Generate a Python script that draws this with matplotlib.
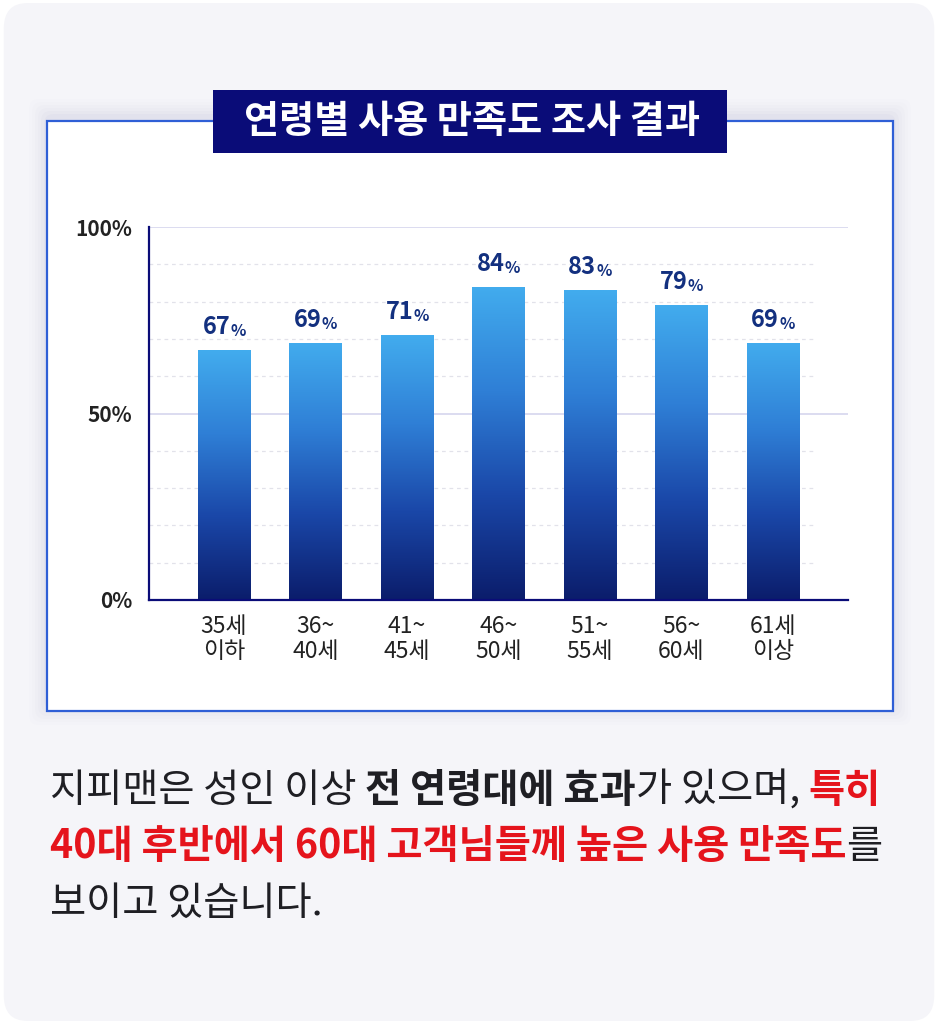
import matplotlib
matplotlib.use('Agg')
import matplotlib.pyplot as plt
import numpy as np
from matplotlib.patches import FancyBboxPatch, Rectangle
from matplotlib.colors import LinearSegmentedColormap

plt.rcParams['font.family'] = ['Noto Sans CJK KR', 'DejaVu Sans']

# data
title = '연령별 사용 만족도 조사 결과'
ages = ['35세\n이하', '36~\n40세', '41~\n45세', '46~\n50세', '51~\n55세', '56~\n60세', '61세\n이상']
values = [67, 69, 71, 84, 83, 79, 69]
yticks = [0, 50, 100]
ytick_labels = ['0%', '50%', '100%']
caption = [
    [('지피맨은 성인 이상 ', 'normal', 'n'), ('전 연령대에 효과', 'bold', 'n'),
     ('가 있으며, ', 'normal', 'n'), ('특히', 'bold', 'r')],
    [('40대 후반에서 60대 고객님들께 높은 사용 만족도', 'bold', 'r'), ('를', 'normal', 'n')],
    [('보이고 있습니다.', 'normal', 'n')],
]

W, H = 938, 1024
fig = plt.figure(figsize=(W / 100, H / 100), dpi=100, facecolor='white')

def fx(px):
    return px / W

def fy(py):
    return 1 - py / H

# page background with rounded corners
fig.patches.append(FancyBboxPatch((0.004, 0.003), 0.992, 0.994, boxstyle='round,pad=0,rounding_size=0.025',
                                  transform=fig.transFigure, facecolor='#f5f5f9', edgecolor='none', zorder=0))

# panel shadow
px0, px1, py0, py1 = 47, 893, 121, 711
for i, a in enumerate([0.035, 0.03, 0.025, 0.02, 0.015, 0.01]):
    s = 3 * (i + 1)
    fig.patches.append(FancyBboxPatch((fx(px0 - s), fy(py1 + s - 4)), fx(px1 - px0 + 2 * s), (py1 - py0 + 2 * s) / H,
                                      boxstyle='round,pad=0,rounding_size=0.01', transform=fig.transFigure,
                                      facecolor='#8080b0', edgecolor='none', alpha=a, zorder=1))
# panel
fig.patches.append(Rectangle((fx(px0), fy(py1)), fx(px1 - px0), (py1 - py0) / H, transform=fig.transFigure,
                             facecolor='white', edgecolor='#2f5fd6', linewidth=1.6, zorder=2))
# title box
fig.patches.append(Rectangle((fx(213), fy(153)), fx(727 - 213), (153 - 90) / H, transform=fig.transFigure,
                             facecolor='#0a0c78', edgecolor='none', zorder=3))
fig.text(fx(472), fy(121), title, color='white', fontsize=27.5, fontweight='bold', ha='center', va='center', zorder=4)

# chart
ax = fig.add_axes([fx(149), fy(600), fx(848 - 149), (600 - 227) / H], zorder=5)
ax.set_facecolor('none')
x = np.arange(len(values))

for g in [10, 20, 30, 40, 60, 70, 80, 90]:
    ax.axhline(g, xmax=0.953, color='#e2e2ea', linewidth=0.9, linestyle=(0, (3, 3)), zorder=1)
for g in [50, 100]:
    ax.axhline(g, color='#dcdcf0', linewidth=1.4, zorder=1)

bars = ax.bar(x, values, width=0.57, color='none', zorder=2)
cmap = LinearSegmentedColormap.from_list('bar', ['#0b1d6b', '#1a47a8', '#2f7fd6', '#42acee'])
grad = np.linspace(0, 1, 256).reshape(-1, 1)
for b in bars:
    im = ax.imshow(grad, cmap=cmap, origin='lower', aspect='auto', zorder=2,
                   extent=(b.get_x(), b.get_x() + b.get_width(), 0, b.get_height()))
    im.set_clip_path(b)
ax.set_xlim(-0.82, len(values) - 1 + 0.82)
ax.set_ylim(0, 100)

for s in ['top', 'right']:
    ax.spines[s].set_visible(False)
ax.spines['left'].set_color('#0a0c78')
ax.spines['bottom'].set_color('#0a0c78')
ax.spines['left'].set_linewidth(1.6)
ax.spines['bottom'].set_linewidth(1.6)
ax.spines['bottom'].set_zorder(3)

ax.set_xticks(x)
ax.set_xticklabels(ages, fontsize=16.5, color='#222222', linespacing=1.1)
ax.set_yticks(yticks)
ax.set_yticklabels(ytick_labels, fontsize=15, color='#222222', fontweight='bold')
ax.tick_params(axis='x', length=0, pad=11)
ax.tick_params(axis='y', length=0, pad=12)

fig.canvas.draw()
renderer = fig.canvas.get_renderer()

# value labels: big number + small percent
lab_color = '#13307f'
off = 8
for xi, v in zip(x, values):
    t1 = ax.annotate(str(v), (xi, v), xytext=(0, off), textcoords='offset points', ha='left', va='bottom',
                     fontsize=17, fontweight='bold', color=lab_color)
    t2 = ax.annotate('%', (xi, v), xytext=(0, off), textcoords='offset points', ha='left', va='bottom',
                     fontsize=11.5, fontweight='bold', color=lab_color)
    w1 = t1.get_window_extent(renderer).width
    w2 = t2.get_window_extent(renderer).width
    total = w1 + w2
    # shift to center the pair
    t1.xyann = (-total / 2 * 72 / 100, off)
    t2.xyann = ((-total / 2 + w1) * 72 / 100, off)

# caption with mixed styles
colors = {'n': '#1f1f24', 'r': '#e5141c'}
line_y = [791, 847, 904]
for parts, ly in zip(caption, line_y):
    xp = 50
    for txt, weight, c in parts:
        t = fig.text(fx(xp), fy(ly), txt, fontsize=28.3, fontweight=weight, color=colors[c],
                     ha='left', va='center')
        xp += t.get_window_extent(renderer).width

fig.savefig('out.png', dpi=100, facecolor='white')
